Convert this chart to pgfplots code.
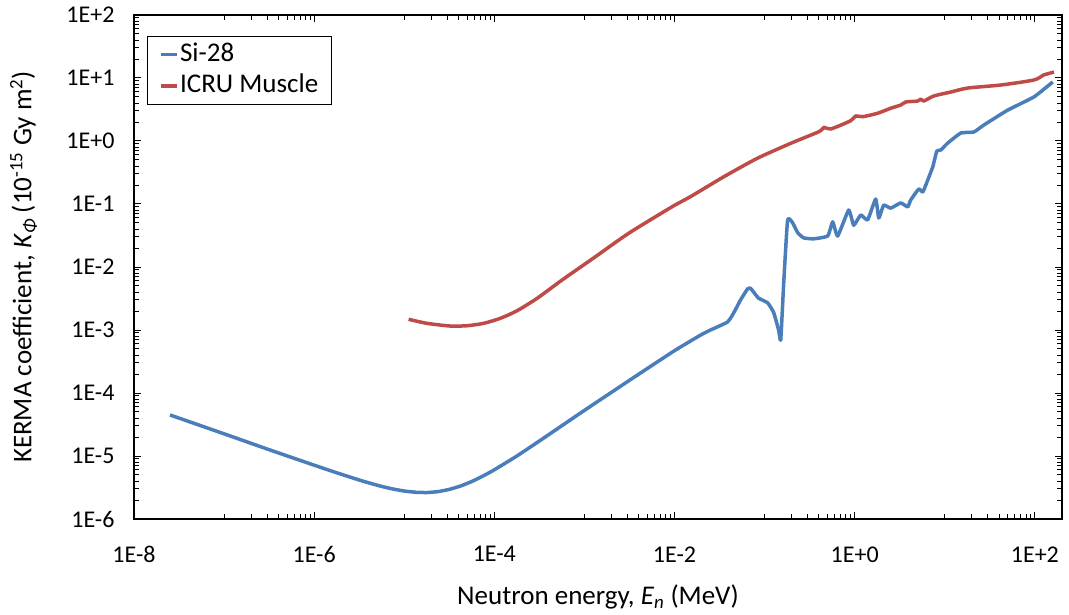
\documentclass[border=0pt]{standalone}
\usepackage{fontspec}
\setmainfont{Carlito}
\usepackage{pgfplots}
\pgfplotsset{compat=1.18}
\definecolor{siblue}{HTML}{4A7EBB}
\definecolor{icrured}{HTML}{BE4B48}
\begin{document}
\begin{tikzpicture}
\begin{axis}[
  xmode=log, ymode=log,
  scale only axis, width=928pt, height=504pt,
  xmin=1e-8, xmax=200, ymin=1e-6, ymax=100,
  xtick={1e-8,1e-6,1e-4,1e-2,1,100},
  xticklabels={1E-8,1E-6,1E-4,1E-2,1E+0,1E+2},
  minor xtick={1e-7,2e-7,3e-7,4e-7,5e-7,6e-7,7e-7,8e-7,9e-7,
               1e-5,2e-5,3e-5,4e-5,5e-5,6e-5,7e-5,8e-5,9e-5,
               1e-3,2e-3,3e-3,4e-3,5e-3,6e-3,7e-3,8e-3,9e-3,
               0.1,0.2,0.3,0.4,0.5,0.6,0.7,0.8,0.9,
               10,20,30,40,50,60,70,80,90},
  ytick={1e-6,1e-5,1e-4,1e-3,1e-2,1e-1,1,10,100},
  yticklabels={1E-6,1E-5,1E-4,1E-3,1E-2,1E-1,1E+0,1E+1,1E+2},
  minor ytick={2e-6,3e-6,4e-6,5e-6,6e-6,7e-6,8e-6,9e-6,
               2e-5,3e-5,4e-5,5e-5,6e-5,7e-5,8e-5,9e-5,
               2e-4,3e-4,4e-4,5e-4,6e-4,7e-4,8e-4,9e-4,
               2e-3,3e-3,4e-3,5e-3,6e-3,7e-3,8e-3,9e-3,
               0.02,0.03,0.04,0.05,0.06,0.07,0.08,0.09,
               0.2,0.3,0.4,0.5,0.6,0.7,0.8,0.9,
               2,3,4,5,6,7,8,9,
               20,30,40,50,60,70,80,90},
  tick align=inside,
  major tick length=7pt, minor tick length=5pt,
  tick style={black, line width=1pt},
  axis line style={black, line width=1.3pt},
  xticklabel style={font=\fontsize{24}{28}\selectfont, yshift=-24pt},
  yticklabel style={font=\fontsize{24}{28}\selectfont, xshift=-16pt},
  xlabel={Neutron energy, \textit{E}\textsubscript{\textit{n}} (MeV)},
  ylabel={KERMA coefficient, \textit{K}\textsubscript{\textit{Φ}} (10\textsuperscript{-15} Gy m\textsuperscript{2})},
  xlabel style={font=\fontsize{27}{30}\selectfont, at={(axis description cs:0.5,-0.1706)}, anchor=base},
  ylabel style={font=\fontsize{27}{30}\selectfont, at={(axis description cs:-0.1336,0.5)}, anchor=north, inner sep=0pt},
  legend style={at={(axis description cs:0.014,0.9583)}, anchor=north west,
    draw=black, line width=1.2pt, font=\fontsize{27}{30}\selectfont,
    nodes={inner ysep=0pt, inner xsep=1pt, text height=20pt, text depth=7pt},
    inner xsep=12pt, inner ysep=4.5pt, row sep=4.5pt},
  legend cell align=left,
  legend image code/.code={\draw[#1, line width=3.5pt] (0pt,0pt) -- (16pt,0pt);},
  every axis plot/.append style={line width=3.5pt, line join=round},
]
\addplot[siblue, smooth, tension=0.25] coordinates {
(2.51e-8,4.48e-5) (1e-7,2.25e-5) (3.16e-7,1.26e-5) (1e-6,7.15e-6)
(1.778e-6,5.42e-6) (3.16e-6,4.16e-6) (4.217e-6,3.68e-6) (5.62e-6,3.29e-6)
(7.5e-6,2.99e-6) (1e-5,2.78e-6) (1.33e-5,2.66e-6)
(1.78e-5,2.63e-6) (2.37e-5,2.72e-6) (3.16e-5,2.95e-6) (4.217e-5,3.34e-6)
(5.62e-5,3.94e-6) (7.5e-5,4.82e-6)
(1e-4,6.04e-6) (1.78e-4,1.0e-5) (3.16e-4,1.73e-5) (5.62e-4,3.03e-5) (1e-3,5.3e-5)
(3.16e-3,1.59e-4) (1e-2,4.7e-4) (0.01945,8.3e-4) (0.0251,1.0e-3)
(0.0388,1.34e-3) (0.0453,1.86e-3) (0.0541,3.0e-3) (0.0647,4.5e-3)
(0.0698,4.6e-3) (0.0755,4.0e-3) (0.0857,3.2e-3) (0.108,2.7e-3)
(0.126,1.9e-3) (0.143,1.0e-3) (0.151,6.9e-4) (0.163,5.6e-3)
(0.180,5.6e-2) (0.205,5.0e-2) (0.233,3.5e-2) (0.271,2.9e-2)
(0.350,2.8e-2) (0.501,3.1e-2) (0.570,5.2e-2) (0.647,3.1e-2)
(0.857,8.0e-2) (0.975,4.6e-2) (1.167,6.7e-2) (1.393,5.6e-2)
(1.71,0.12) (1.85,0.060) (2.10,0.096) (2.51,0.086)
(3.24,0.104) (3.88,0.090) (4.19,0.116) (5.14,0.173)
(5.70,0.155) (6.47,0.24) (7.36,0.39) (8.15,0.69)
(9.04,0.72) (10.8,0.93) (15.1,1.34) (21.0,1.39)
(27.1,1.79) (50.1,3.1) (97.5,5.0) (158,8.65)
};
\addlegendentry{Si-28}
\addplot[icrured, smooth, tension=0.4] coordinates {
(1.117e-5,1.48e-3) (1.786e-5,1.276e-3) (3.24e-5,1.156e-3) (4.98e-5,1.169e-3)
(7.60e-5,1.276e-3) (1.167e-4,1.534e-3) (1.786e-4,2.02e-3) (2.98e-4,3.18e-3)
(5.65e-4,6.22e-3) (1.324e-3,1.456e-2)
(3.10e-3,3.43e-2) (9.42e-3,9.06e-2) (1.507e-2,0.131) (3.53e-2,0.271)
(8.30e-2,0.531) (0.1945,0.918) (0.401,1.406) (0.456,1.65)
(0.541,1.55) (0.904,2.10) (1.026,2.50) (1.219,2.43)
(1.786,2.75) (2.51,3.31) (3.24,3.72) (3.69,4.16)
(5.01,4.31) (5.41,4.64) (5.85,4.31) (7.55,5.18)
(11.7,6.0) (18.0,6.93) (41.9,7.74) (97.5,9.29) (126,11.2) (163,12.4)
};
\addlegendentry{ICRU Muscle}
\end{axis}
\path (current axis.south west) ++(-134pt,-96pt) rectangle ++(1069pt,615pt);
\end{tikzpicture}
\end{document}
